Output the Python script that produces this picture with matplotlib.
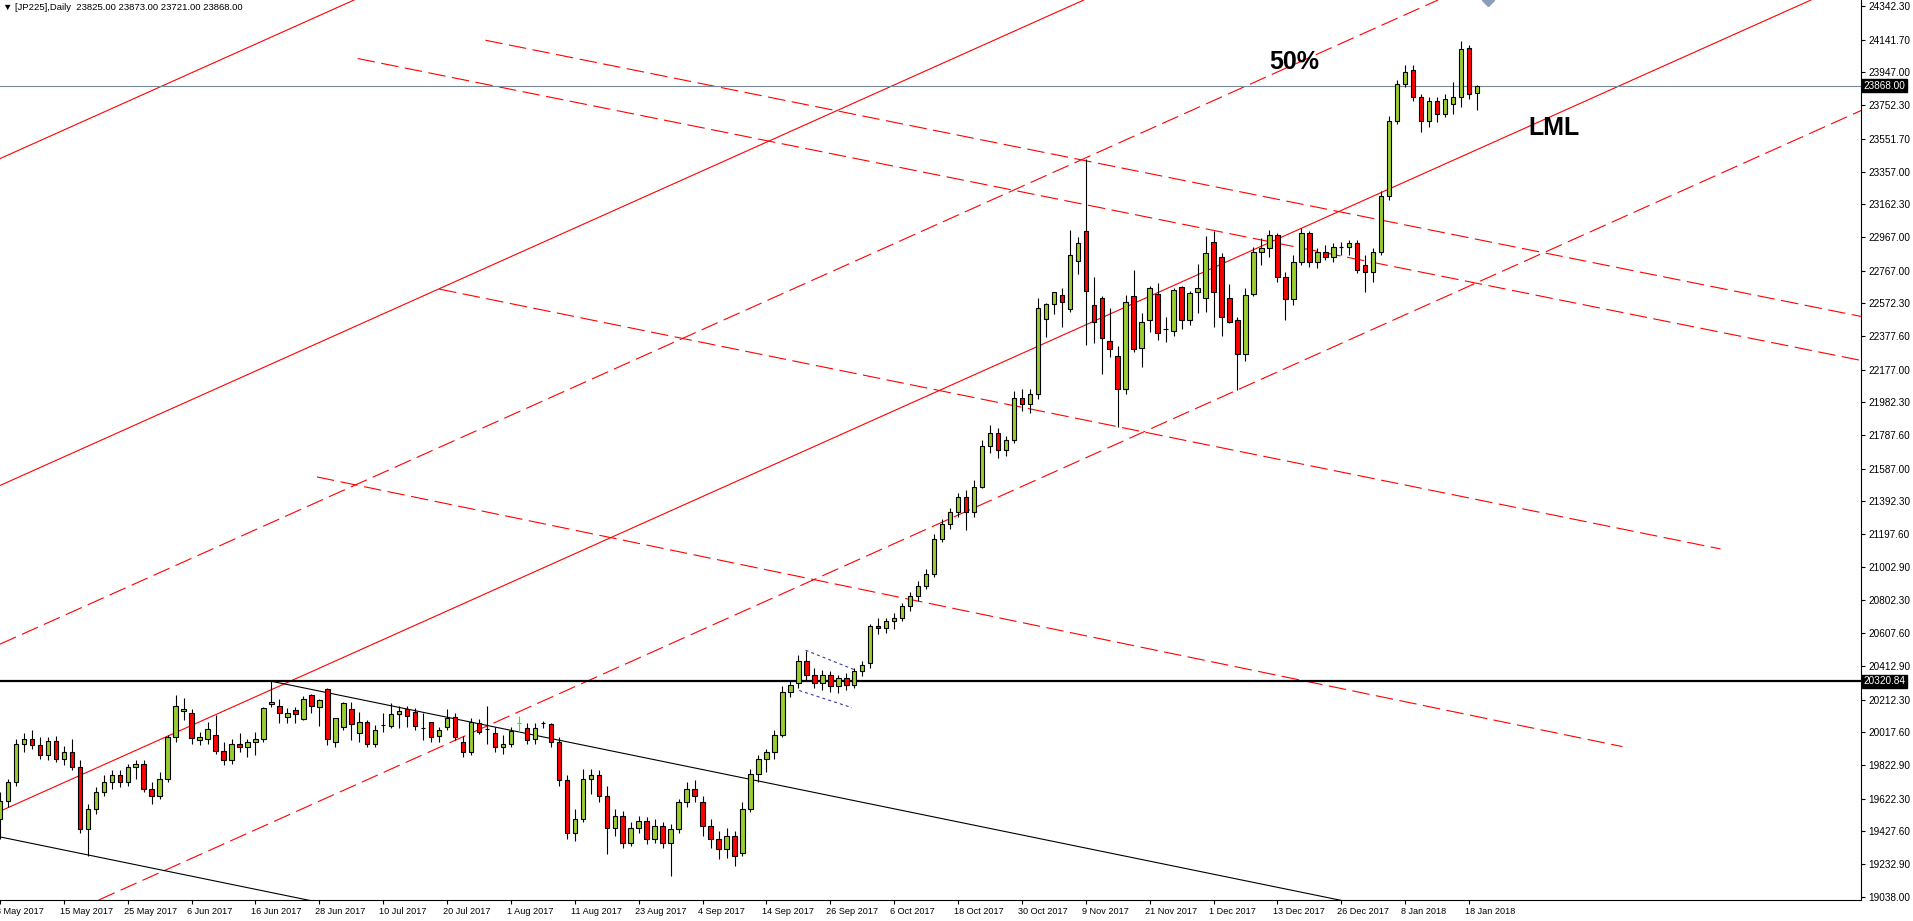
import matplotlib
matplotlib.use("Agg")
import matplotlib.pyplot as plt
import matplotlib.transforms as mtransforms

plt.rcParams['font.family'] = ['Liberation Sans', 'DejaVu Sans']
plt.rcParams['lines.scale_dashes'] = False

# daily JP225 bars, 3 May 2017 .. 19 Jan 2018
opens = [
    19500, 19610, 19720, 19950, 19975, 19940, 19880, 19965, 19860, 19900,
    19810, 19440, 19560, 19660, 19720, 19760, 19720, 19810, 19830, 19680,
    19640, 19740, 19990, 20142, 20130, 19970, 19977, 20001, 19905, 19850,
    19950, 19930, 19960, 19977, 20183, 20174, 20106, 20150, 20094, 20237,
    20170, 20273, 19960, 20047, 20154, 20011, 20076, 19950, 20060, 20057,
    20124, 20156, 20136, 20040, 20076, 19997, 20047, 20106, 19960, 19900,
    20070, 20037, 20011, 19930, 19950, 20074, 20045, 19975, 20070, 20064,
    19960, 19730, 19420, 19500, 19740, 19760, 19640, 19450, 19520, 19360,
    19450, 19490, 19380, 19460, 19360, 19440, 19600, 19680, 19600, 19460,
    19380, 19320, 19400, 19300, 19560, 19770, 19860, 19900, 20000, 20260,
    20310, 20440, 20360, 20310, 20360, 20290, 20340, 20300, 20380, 20430,
    20650, 20640, 20680, 20700, 20770, 20830, 20890, 20960, 21170, 21260,
    21330, 21420, 21330, 21480, 21720, 21800, 21700, 21760, 22010, 21970,
    22030, 22477, 22566, 22622, 22536, 22822, 23003, 22562, 22602, 22348,
    22258, 22060, 22616, 22304, 22473, 22625, 22417, 22410, 22667, 22473,
    22641, 22602, 22935, 22846, 22602, 22471, 22270, 22626, 22878, 22900,
    22980, 22730, 22600, 22820, 22990, 22820, 22880, 22850, 22905, 22905,
    22930, 22800, 22760, 22880, 23210, 23660, 23880, 23960, 23800, 23660,
    23780, 23700, 23760, 23800, 24090, 23825,
]
highs = [
    19660, 19740, 19980, 20010, 20030, 19990, 19990, 19995, 19935, 19975,
    19850, 19590, 19690, 19760, 19790, 19790, 19830, 19850, 19850, 19720,
    19780, 20000, 20239, 20219, 20156, 20017, 20080, 20120, 19960, 19975,
    20015, 19977, 20019, 20165, 20321, 20213, 20160, 20170, 20233, 20243,
    20213, 20281, 20105, 20196, 20196, 20138, 20090, 20060, 20130, 20190,
    20175, 20175, 20160, 20130, 20080, 20050, 20155, 20130, 19995, 20100,
    20094, 20174, 20050, 20001, 20050, 20114, 20070, 20070, 20084, 20074,
    19990, 19760, 19560, 19800, 19800, 19790, 19700, 19560, 19550, 19480,
    19520, 19510, 19500, 19480, 19470, 19620, 19720, 19730, 19640, 19500,
    19430, 19450, 19430, 19600, 19800, 19880, 19920, 20030, 20290, 20330,
    20480, 20500, 20400, 20390, 20380, 20360, 20370, 20400, 20440, 20660,
    20700, 20700, 20730, 20790, 20850, 20920, 20990, 21200, 21290, 21350,
    21440, 21460, 21520, 21760, 21850, 21830, 21780, 22050, 22060, 22060,
    22602, 22576, 22641, 22661, 23009, 22965, 23430, 22731, 22616, 22542,
    22318, 22622, 22770, 22512, 22675, 22691, 22492, 22661, 22675, 22646,
    22806, 22973, 23003, 22874, 22685, 22490, 22665, 22909, 22960, 23010,
    22990, 22760, 22860, 23020, 23000, 22900, 22920, 22930, 22940, 22950,
    22950, 22860, 22900, 23240, 23690, 23900, 23990, 23990, 23820, 23800,
    23800, 23820, 23890, 24135, 24110, 23873,
]
lows = [
    19380, 19570, 19700, 19900, 19920, 19860, 19850, 19840, 19820, 19790,
    19420, 19280, 19530, 19640, 19680, 19690, 19700, 19740, 19660, 19590,
    19620, 19720, 19960, 20090, 19950, 19940, 19950, 19890, 19820, 19830,
    19900, 19870, 19880, 19960, 20170, 20070, 20070, 20074, 20090, 20130,
    20056, 19940, 19930, 20030, 19971, 19960, 19930, 19930, 20020, 20041,
    20041, 20050, 20030, 19971, 19960, 19960, 20030, 19970, 19870, 19880,
    20007, 19950, 19900, 19890, 19930, 20021, 19950, 19950, 20041, 19930,
    19700, 19380, 19370, 19480, 19650, 19600, 19290, 19400, 19330, 19340,
    19420, 19350, 19360, 19330, 19160, 19420, 19570, 19600, 19400, 19330,
    19260, 19270, 19220, 19280, 19540, 19720, 19780, 19860, 19990, 20230,
    20280, 20330, 20280, 20270, 20260, 20250, 20270, 20280, 20350, 20400,
    20600, 20610, 20630, 20680, 20740, 20800, 20870, 20940, 21150, 21230,
    21300, 21220, 21300, 21470, 21680, 21650, 21660, 21740, 21930, 21920,
    22000, 22373, 22507, 22433, 22522, 22747, 22324, 22338, 22150, 22254,
    21835, 22030, 22284, 22190, 22403, 22353, 22340, 22380, 22417, 22440,
    22516, 22522, 22430, 22380, 22453, 22053, 22230, 22616, 22800, 22850,
    22700, 22475, 22560, 22800, 22790, 22780, 22830, 22820, 22860, 22860,
    22750, 22640, 22700, 22860, 23190, 23640, 23860, 23780, 23590, 23620,
    23650, 23680, 23700, 23740, 23790, 23721,
]
closes = [
    19610, 19720, 19950, 19975, 19940, 19880, 19965, 19860, 19900, 19810,
    19440, 19560, 19660, 19720, 19760, 19720, 19810, 19830, 19680, 19640,
    19740, 19990, 20174, 20156, 19985, 19991, 20037, 19905, 19850, 19950,
    19930, 19960, 19975, 20160, 20195, 20134, 20130, 20124, 20213, 20174,
    20207, 19977, 20100, 20190, 20065, 20076, 19950, 20029, 20060, 20126,
    20142, 20114, 20057, 20040, 19987, 20029, 20100, 19991, 19900, 20076,
    20021, 20037, 19930, 19950, 20023, 20074, 19971, 20041, 20070, 19960,
    19730, 19420, 19500, 19740, 19760, 19640, 19450, 19520, 19360, 19450,
    19490, 19380, 19460, 19360, 19440, 19600, 19680, 19640, 19460, 19380,
    19320, 19400, 19280, 19560, 19770, 19860, 19900, 20000, 20260, 20300,
    20440, 20360, 20310, 20360, 20290, 20340, 20300, 20380, 20420, 20650,
    20640, 20680, 20700, 20770, 20830, 20890, 20960, 21170, 21260, 21330,
    21420, 21330, 21480, 21720, 21800, 21700, 21760, 22010, 21970, 22030,
    22542, 22570, 22638, 22578, 22858, 22929, 22647, 22459, 22364, 22302,
    22060, 22578, 22298, 22459, 22661, 22393, 22417, 22651, 22473, 22632,
    22661, 22870, 22641, 22489, 22463, 22270, 22620, 22878, 22900, 22980,
    22730, 22600, 22820, 22990, 22820, 22880, 22850, 22910, 22905, 22930,
    22770, 22760, 22880, 23210, 23660, 23880, 23950, 23800, 23660, 23780,
    23700, 23790, 23800, 24085, 23820, 23868,
]
lime_bars = [65]   # the doji drawn in lime

date_labels = ["3 May 2017", "15 May 2017", "25 May 2017", "6 Jun 2017", "16 Jun 2017",
               "28 Jun 2017", "10 Jul 2017", "20 Jul 2017", "1 Aug 2017", "11 Aug 2017",
               "23 Aug 2017", "4 Sep 2017", "14 Sep 2017", "26 Sep 2017", "6 Oct 2017",
               "18 Oct 2017", "30 Oct 2017", "9 Nov 2017", "21 Nov 2017", "1 Dec 2017",
               "13 Dec 2017", "26 Dec 2017", "8 Jan 2018", "18 Jan 2018"]
price_ticks = [24342.30, 24141.70, 23947.00, 23752.30, 23551.70, 23357.00, 23162.30,
               22967.00, 22767.00, 22572.30, 22377.60, 22177.00, 21982.30, 21787.60,
               21587.00, 21392.30, 21197.60, 21002.90, 20802.30, 20607.60, 20412.90,
               20212.30, 20017.60, 19822.90, 19622.30, 19427.60, 19232.90, 19038.00]

bid_price = 23868.00
hline_price = 20320.84

# rising fork lines: price where each crosses bar 0, common slope per bar
fork_slope = 21.3
fork_y0 = [23434, 21487, 20542, 19547, 18755]
fork_dashed = [False, False, True, False, True]
# falling dashed lines as (bar, price) anchor pairs
down_lines = [((60.8, 24139), (240.0, 22428)),
              ((44.8, 24030), (240.0, 22166)),
              ((55.0, 22657), (215.5, 21109)),
              ((39.7, 21538), (203.2, 19932))]
# black trend lines
black_lines = [((34.0, 20321), (180.0, 18899)),
               ((0.0, 19394), (40.0, 19004))]
# small flag channel
flag_lines = [((100.9, 20506), (107.0, 20390)),
              ((100.1, 20266), (106.7, 20164))]

fig = plt.figure(figsize=(19.13, 9.21), dpi=100)
ax = fig.add_axes([0, 21 / 921, 1861 / 1913, 900 / 921])
ax.set_xlim(0.03, 233.1)
ax.set_ylim(19018.2, 24378.6)

red_dash = (0, (12.6, 4.7))
for y0, dashed in zip(fork_y0, fork_dashed):
    ax.axline((0, y0), slope=fork_slope, color='#ff0000', lw=0.8,
              ls=red_dash if dashed else '-', zorder=1)
for (x1, y1), (x2, y2) in down_lines:
    ax.plot([x1, x2], [y1, y2], color='#ff0000', lw=0.8, ls=red_dash, zorder=1)
for (x1, y1), (x2, y2) in black_lines:
    ax.plot([x1, x2], [y1, y2], color='black', lw=0.8, zorder=2)
for (x1, y1), (x2, y2) in flag_lines:
    ax.plot([x1, x2], [y1, y2], color='#3c3ca8', lw=0.8, ls=(0, (2.2, 2.2)), zorder=2)

ax.axhline(hline_price, color='black', lw=1.6, zorder=2)
ax.axhline(bid_price, color='#778899', lw=0.8, zorder=2)

# candles
bw = 0.56
for i in range(len(opens)):
    o, h, l, c = opens[i], highs[i], lows[i], closes[i]
    col = 'lime' if i in lime_bars else 'black'
    ax.vlines(i, l, h, color=col, lw=0.8, zorder=3)
    if o == c:
        ax.hlines(o, i - bw / 2, i + bw / 2, color=col, lw=0.8, zorder=4)
    else:
        fill = '#9acd32' if c > o else '#ff0000'
        ax.bar(i, abs(c - o), bottom=min(o, c), width=bw, color=fill,
               edgecolor='black', linewidth=0.8, zorder=4)

ax.plot([186.4], [24378.6], marker='D', ms=6, color='#8c9db5', zorder=5)

ax.text(162.1, 24009, "50%", fontsize=18, fontweight='bold', ha='center', va='center', zorder=6)
ax.text(194.6, 23616, "LML", fontsize=18, fontweight='bold', ha='center', va='center', zorder=6)

# axes styling
for side in ['top', 'left']:
    ax.spines[side].set_visible(False)
for side in ['right', 'bottom']:
    ax.spines[side].set_linewidth(0.8)
ax.yaxis.tick_right()
ax.set_yticks(price_ticks)
ax.set_yticklabels([f"{p:.2f}" for p in price_ticks])
ax.tick_params(axis='y', direction='out', length=3, width=0.8, labelsize=7.2, pad=2)
ax.set_xticks(range(0, 8 * len(date_labels), 8))
ax.set_xticklabels(date_labels, ha='left')
ax.tick_params(axis='x', direction='out', length=3, width=0.8, labelsize=6.6, pad=2)
shift = mtransforms.ScaledTranslation(-3 / 72, 0, fig.dpi_scale_trans)
for lab in ax.get_xticklabels():
    lab.set_transform(lab.get_transform() + shift)

# price boxes on the scale
box_tr = mtransforms.blended_transform_factory(ax.transAxes, ax.transData)
for p in [bid_price, hline_price]:
    ax.text(1.0015, p, f"{p:.2f}", transform=box_tr, fontsize=7.2, color='white',
            ha='left', va='center', clip_on=False, zorder=7,
            bbox=dict(boxstyle='square,pad=0.15', facecolor='black', edgecolor='black'))

fig.text(0.0015, 1 - 7 / 921, "\u25bc [JP225],Daily  23825.00 23873.00 23721.00 23868.00",
         fontsize=6.8, va='center', ha='left')

fig.savefig("out.png", dpi=100)
